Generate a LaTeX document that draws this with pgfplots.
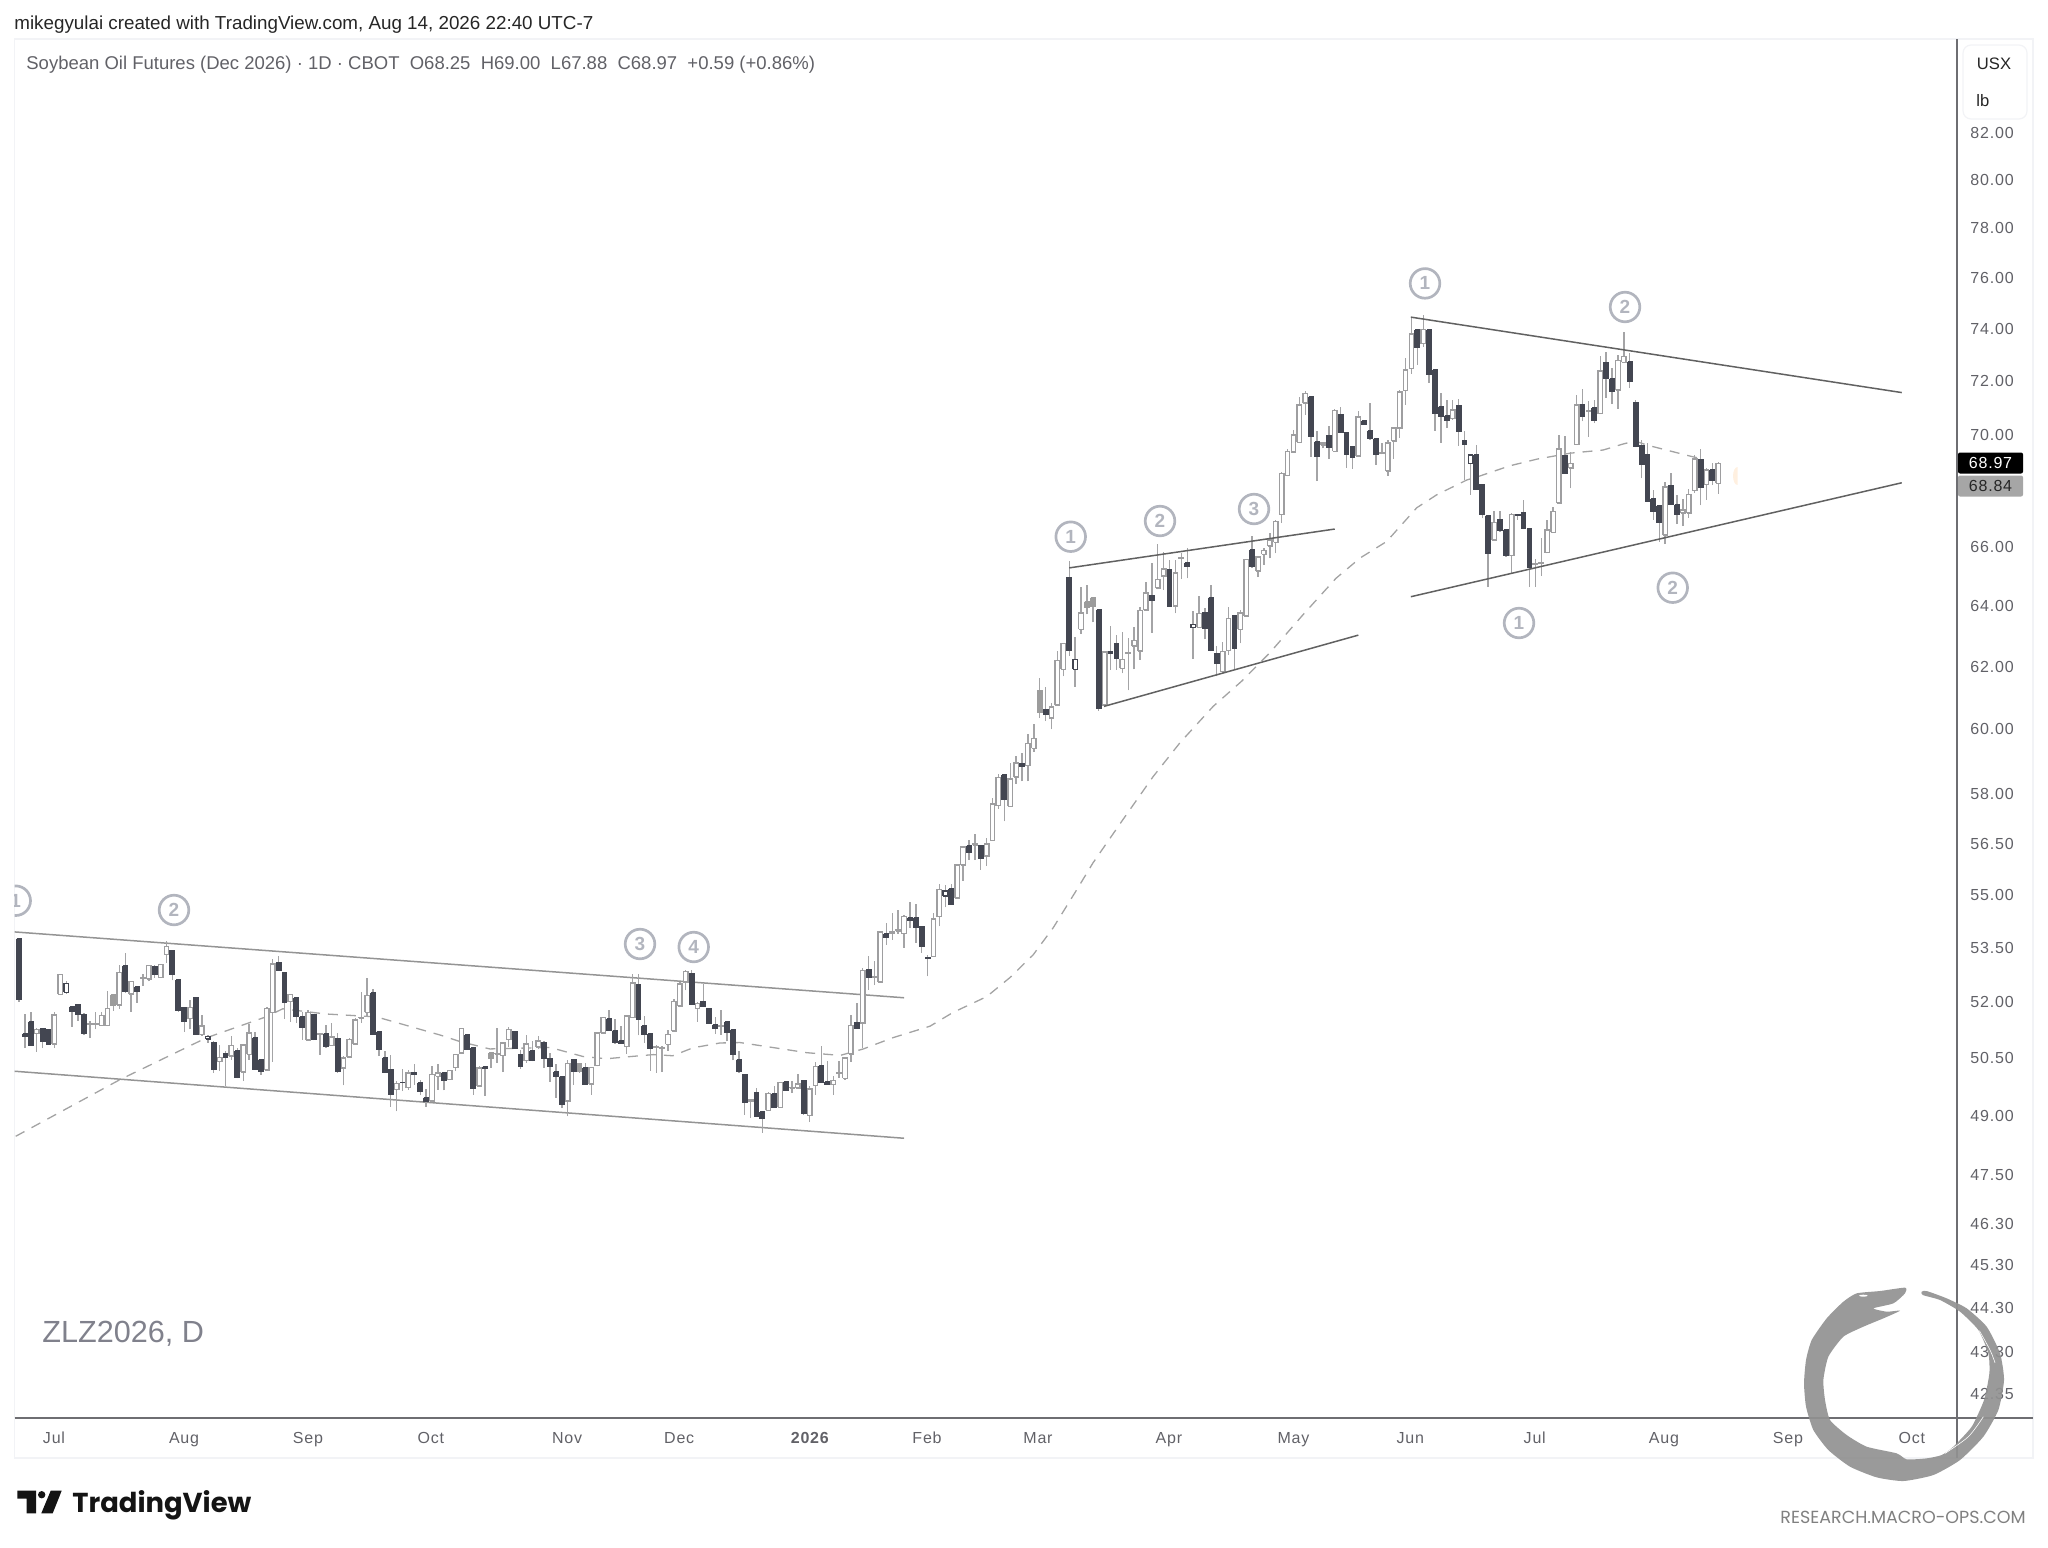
\documentclass[border=0pt]{standalone}
\usepackage{fontspec}
\usepackage{pgfplots}
\pgfplotsset{compat=1.18}
\setmainfont{Liberation Sans}
\newfontfamily\tk[LetterSpace=5]{Liberation Sans}
\newfontfamily\pop{Poppins}
\definecolor{dk}{HTML}{434651}
\definecolor{wk}{HTML}{A4A4A6}
\definecolor{gb}{HTML}{9E9EA0}
\definecolor{cg}{HTML}{9C9C9C}
\definecolor{tx}{HTML}{616167}
\definecolor{circ}{HTML}{B2B5BE}
\definecolor{frm}{HTML}{F2F3F6}
\definecolor{axl}{HTML}{6E6E72}
\pgfplotsset{
 wick/.style={draw=wk,line width=0.7pt,forget plot},
 sdk/.style={draw=dk,fill=dk,line width=0.7pt,forget plot},
 sup/.style={draw=gb,fill=white,line width=0.7pt,forget plot},
 sgr/.style={draw=cg,fill=cg,line width=0.7pt,forget plot},
 sbd/.style={draw=dk,fill=white,line width=0.7pt,forget plot},
}
\newcommand\body[4]{\pgfmathsetmacro\xl{#2-.38}\pgfmathsetmacro\xr{#2+.38}%
 \addplot[#1] coordinates {(\xl,#3)(\xr,#3)(\xr,#4)(\xl,#4)(\xl,#3)};}
\def\D#1 #2 #3 #4 #5;{\addplot[wick] coordinates {(#1,#4)(#1,#3)};\body{sdk}{#1}{#2}{#5}}
\def\U#1 #2 #3 #4 #5;{\addplot[wick] coordinates {(#1,#4)(#1,#3)};\body{sup}{#1}{#2}{#5}}
\def\G#1 #2 #3 #4 #5;{\addplot[wick] coordinates {(#1,#4)(#1,#3)};\body{sgr}{#1}{#2}{#5}}
\def\B#1 #2 #3 #4 #5;{\addplot[wick] coordinates {(#1,#4)(#1,#3)};\body{sbd}{#1}{#2}{#5}}
\begin{document}
\begin{tikzpicture}[x=0.5pt,y=-0.5pt]
\path[use as bounding box] (0,0) rectangle (2048,1547);
\draw[frm,line width=0.6pt] (14.7,39) rectangle (2033,1458);
\begin{axis}[
 at={(7.35pt,-709pt)},anchor=south west,scale only axis,
 width=971.15pt,height=689.5pt,
 xmin=-0.73,xmax=328.47,ymode=log,ymin=41.82,ymax=86.14,
 axis line style={draw=none},tick style={draw=none},minor tick num=0,
 xtick={5.93,27.97,48.98,69.8,92.9,111.9,134.1,153.9,172.7,194.9,216,235.8,256.9,278.8,299.8,320.8},
 xticklabels={Jul,Aug,Sep,Oct,Nov,Dec,{\textbf{2026}},Feb,Mar,Apr,May,Jun,Jul,Aug,Sep,Oct},
 xticklabel style={font=\tk\fontsize{8}{10}\selectfont,text=tx,anchor=base,inner sep=0pt,yshift=-13pt},
 ytick={82,80,78,76,74,72,70,66,64,62,60,58,56.5,55,53.5,52,50.5,49,47.5,46.3,45.3,44.3,43.3,42.35},
 yticklabels={82.00,80.00,78.00,76.00,74.00,72.00,70.00,66.00,64.00,62.00,60.00,58.00,56.50,55.00,53.50,52.00,50.50,49.00,47.50,46.30,45.30,44.30,43.30,42.35},
 yticklabel pos=right,
 yticklabel style={font=\tk\fontsize{8}{10}\selectfont,text=tx,anchor=west,inner sep=0pt,xshift=6.5pt},
]
% trend lines
\addplot[draw=black!42,line width=0.75pt,forget plot] coordinates {(-0.73,53.95)(150,52.12)};
\addplot[draw=black!42,line width=0.75pt,forget plot] coordinates {(-0.73,50.15)(150,48.42)};
% 50-day average
\addplot[draw=black!36,line width=0.65pt,dash pattern=on 5pt off 4pt,forget plot] coordinates {
(-0.56,48.47)(17.1,49.93)(31.8,51.04)(42.0,51.61)(44.7,51.82)(51.9,51.68)(60.6,51.60)(71.4,51.11)(74.7,50.94)(79.8,50.74)(90.0,50.78)(95.6,50.54)(99.6,50.48)(103.0,50.53)(107.5,50.59)(110.8,50.56)(114.2,50.77)(118.8,50.90)(122.2,50.91)(130.2,50.72)(133.5,50.64)(139.2,50.57)(143.1,50.74)(148.1,51.04)(154.4,51.35)(158.3,51.72)(164.0,52.15)(168.0,52.68)(171.9,53.31)(175.3,54.07)(179.3,55.16)(182.0,55.93)(187.1,57.22)(192.2,58.52)(196.8,59.58)(202.4,60.72)(207.2,61.52)(212.0,62.45)(217.6,63.70)(223.2,64.93)(227.3,65.63)(231.8,66.20)(236.9,67.38)(240.3,67.84)(245.4,68.37)(247.6,68.51)(252.7,68.88)(257.3,69.12)(262.9,69.34)(268.5,69.45)(271.9,69.67)(273.9,69.78)(275.9,69.63)(283.7,69.20)(284.6,69.16)};
% candles: index open high low close
\D 0 53.76 53.76 52.01 52.08;
\D 1 51.14 51.68 50.76 51.09;
\D 2 51.46 51.74 50.84 50.84;
\U 3 51.15 51.30 50.66 51.26;
\D 4 51.29 51.29 50.76 50.94;
\D 5 51.25 51.25 50.85 50.86;
\U 6 50.87 51.72 50.76 51.65;
\U 7 52.21 52.76 52.19 52.76;
\B 8 52.27 52.57 52.22 52.51;
\D 9 51.88 51.88 51.33 51.74;
\D 10 51.94 51.94 51.50 51.67;
\D 11 51.67 51.70 51.11 51.16;
\U 12 51.39 51.50 51.03 51.42;
\U 13 51.39 51.72 51.26 51.41;
\U 14 51.37 51.72 51.35 51.64;
\U 15 51.37 52.31 51.35 51.82;
\G 16 52.20 52.20 51.77 51.92;
\U 17 51.92 53.03 51.82 52.82;
\D 18 53.00 53.36 52.25 52.29;
\U 19 52.22 52.57 51.74 52.57;
\D 20 52.42 52.42 51.99 52.29;
\U 21 52.65 52.76 52.45 52.67;
\U 22 52.63 53.01 52.57 53.01;
\D 23 52.98 53.01 52.67 52.75;
\U 24 52.67 53.03 52.67 53.03;
\U 25 53.31 53.69 53.08 53.54;
\D 26 53.43 53.45 52.60 52.76;
\D 27 52.62 52.62 51.74 51.77;
\D 28 51.86 51.86 51.19 51.47;
\U 29 51.55 52.06 51.26 51.85;
\D 30 52.13 52.13 51.12 51.13;
\U 31 51.12 51.64 51.08 51.35;
\B 32 51.01 51.12 50.90 51.08;
\D 33 50.92 50.94 50.11 50.20;
\U 34 50.41 50.85 50.15 50.52;
\D 35 50.62 50.68 49.76 50.52;
\U 36 50.55 51.08 50.46 50.83;
\D 37 50.70 50.76 49.96 50.00;
\U 38 50.13 50.87 49.89 50.85;
\U 39 50.60 51.40 50.46 51.17;
\D 40 51.04 51.19 50.18 50.20;
\D 41 50.46 50.46 50.06 50.14;
\U 42 50.18 51.88 50.18 51.83;
\U 43 51.72 53.20 50.40 53.05;
\D 44 53.10 53.26 52.85 52.87;
\D 45 52.80 52.80 51.54 52.00;
\U 46 52.01 52.20 51.47 52.20;
\D 47 52.11 52.15 51.43 51.61;
\D 48 51.60 51.74 50.99 51.32;
\U 49 50.98 51.79 50.98 51.72;
\D 50 51.67 51.67 50.97 50.99;
\U 51 51.13 51.15 50.59 51.15;
\D 52 51.15 51.39 50.76 50.81;
\U 53 50.83 51.43 50.83 51.06;
\D 54 51.01 51.17 50.11 50.15;
\U 55 50.24 50.55 49.78 50.50;
\U 56 50.53 51.03 50.53 50.99;
\U 57 50.87 51.56 50.85 51.52;
\U 58 51.57 52.27 51.43 51.59;
\U 59 51.72 52.67 51.61 52.18;
\D 60 52.25 52.36 51.11 51.12;
\D 61 51.19 51.19 50.55 50.72;
\D 62 50.50 50.70 50.11 50.13;
\D 63 50.20 50.59 49.22 49.56;
\U 64 49.67 49.89 49.11 49.83;
\D 65 49.86 50.20 49.63 49.85;
\U 66 49.72 50.18 49.67 50.11;
\D 67 50.12 50.33 49.80 50.06;
\D 68 49.85 49.92 49.52 49.62;
\D 69 49.46 49.69 49.22 49.36;
\U 70 49.37 50.30 49.37 50.07;
\U 71 50.02 50.35 49.67 50.11;
\D 72 50.11 50.11 49.65 49.91;
\U 73 49.93 50.17 49.93 50.17;
\U 74 50.25 50.60 50.15 50.60;
\U 75 50.63 51.28 50.63 51.28;
\D 76 51.12 51.12 50.72 50.72;
\D 77 50.76 50.76 49.54 49.70;
\U 78 49.76 50.30 49.76 50.24;
\D 79 50.27 50.27 49.50 50.22;
\G 80 50.63 50.63 50.24 50.48;
\U 81 50.61 51.30 50.37 50.62;
\U 82 50.56 50.90 50.13 50.90;
\U 83 50.99 51.33 50.78 51.26;
\D 84 51.21 51.21 50.75 50.75;
\D 85 50.59 50.72 50.22 50.28;
\U 86 50.43 51.12 50.37 50.87;
\D 87 50.70 50.94 50.41 50.43;
\U 88 50.79 51.08 50.74 50.95;
\D 89 50.92 50.94 50.24 50.48;
\D 90 50.49 50.63 49.87 50.28;
\D 91 50.13 50.33 49.46 50.01;
\D 92 50.01 50.01 49.19 49.28;
\U 93 49.38 50.46 48.98 50.35;
\D 94 50.45 50.45 49.79 50.14;
\G 95 50.34 50.34 50.11 50.14;
\D 96 50.24 50.37 49.80 49.80;
\U 97 49.82 50.25 49.54 50.25;
\U 98 50.30 51.19 50.28 51.17;
\U 99 51.17 51.59 51.15 51.59;
\D 100 51.54 51.79 51.24 51.24;
\D 101 51.23 51.54 50.88 50.92;
\D 102 50.95 51.35 50.88 50.88;
\U 103 50.81 51.62 50.61 51.62;
\U 104 51.59 52.76 51.59 52.52;
\D 105 52.47 52.76 51.10 51.54;
\D 106 51.35 51.62 50.90 51.12;
\D 107 51.14 51.14 50.17 50.76;
\U 108 50.79 50.85 50.11 50.80;
\U 109 50.76 50.81 50.13 50.77;
\U 110 50.86 51.24 50.68 51.13;
\U 111 51.22 52.08 51.21 52.01;
\U 112 51.90 52.54 51.86 52.50;
\U 113 52.55 52.87 52.32 52.84;
\D 114 52.78 52.87 51.92 51.94;
\U 115 51.83 52.01 51.47 51.97;
\D 116 52.02 52.50 51.90 51.90;
\D 117 51.83 51.83 51.41 51.43;
\D 118 51.38 51.61 51.14 51.28;
\U 119 51.34 51.79 51.12 51.37;
\D 120 51.46 51.46 50.94 51.19;
\D 121 51.25 51.28 50.44 50.60;
\D 122 50.45 50.70 50.11 50.14;
\D 123 50.06 50.06 49.02 49.35;
\U 124 49.38 49.41 48.94 49.41;
\D 125 49.60 49.72 48.96 48.98;
\D 126 49.10 49.10 48.56 48.93;
\U 127 49.13 49.60 49.12 49.57;
\D 128 49.56 49.76 49.22 49.22;
\U 129 49.21 49.87 49.21 49.85;
\D 130 49.87 49.87 49.65 49.65;
\U 131 49.71 49.89 49.58 49.73;
\U 132 49.71 50.09 49.71 49.82;
\D 133 49.91 49.91 49.02 49.05;
\U 134 49.00 49.76 48.83 49.69;
\U 135 49.78 50.39 49.54 50.28;
\D 136 50.30 50.81 49.85 49.87;
\D 137 49.87 50.41 49.80 49.80;
\U 138 49.80 50.02 49.54 49.91;
\U 139 50.09 50.41 49.98 50.11;
\U 140 49.96 50.50 49.93 50.50;
\U 141 50.61 51.64 50.40 51.37;
\D 142 51.45 51.97 51.29 51.29;
\U 143 51.43 52.94 50.76 52.87;
\D 144 52.88 53.26 52.34 52.69;
\U 145 52.67 53.14 52.47 52.69;
\U 146 52.55 53.95 52.55 53.95;
\D 147 53.89 54.21 53.59 53.81;
\U 148 53.90 54.48 53.73 53.94;
\U 149 53.98 54.58 53.90 54.00;
\U 150 53.90 54.44 53.51 54.39;
\D 151 54.35 54.79 54.07 54.28;
\D 152 54.35 54.75 53.65 54.07;
\D 153 54.09 54.09 53.37 53.54;
\D 154 53.23 53.31 52.71 53.21;
\U 155 53.26 54.48 53.26 54.32;
\U 156 54.38 55.33 54.11 55.16;
\B 157 54.98 55.29 54.65 55.12;
\D 158 55.18 55.31 54.72 54.74;
\U 159 54.92 55.91 54.92 55.87;
\U 160 55.87 56.45 55.42 56.40;
\D 161 56.43 56.62 56.02 56.26;
\U 162 56.47 56.79 56.02 56.49;
\D 163 56.45 56.45 55.73 56.06;
\U 164 56.14 56.67 55.86 56.49;
\U 165 56.60 57.87 56.60 57.69;
\U 166 57.64 58.62 57.54 58.49;
\D 167 58.58 58.58 57.17 57.83;
\U 168 57.62 58.95 57.62 58.45;
\U 169 58.51 59.17 58.31 58.95;
\D 170 58.93 59.25 58.38 58.85;
\U 171 58.86 59.83 58.38 59.55;
\U 172 59.40 60.16 59.30 59.71;
\G 173 61.23 61.62 60.35 60.52;
\D 174 60.62 61.35 60.25 60.47;
\U 175 60.35 60.81 59.99 60.70;
\U 176 60.76 62.49 60.76 62.20;
\U 177 61.91 62.76 61.68 62.74;
\D 178 64.97 65.53 62.34 62.54;
\B 179 61.91 62.98 61.35 62.24;
\U 180 63.22 64.64 63.06 63.77;
\G 181 64.14 64.72 63.72 63.94;
\G 182 64.27 64.27 63.45 64.00;
\D 183 63.86 63.86 60.57 60.67;
\U 184 60.76 62.47 60.74 62.47;
\D 185 62.49 63.33 61.89 62.43;
\D 186 62.73 63.03 61.89 62.26;
\U 187 61.94 63.14 61.78 62.24;
\U 188 62.42 62.93 61.23 62.44;
\U 189 62.67 63.31 61.91 62.85;
\U 190 62.51 63.97 62.22 63.84;
\U 191 63.86 64.82 63.86 64.43;
\D 192 64.36 65.45 63.11 64.20;
\U 193 64.60 66.13 64.56 64.90;
\U 194 65.01 65.85 64.54 65.25;
\D 195 65.22 65.56 63.97 64.00;
\U 196 64.00 65.56 63.75 65.11;
\U 197 65.62 65.79 64.90 65.64;
\D 198 65.47 65.97 64.93 65.34;
\B 199 63.28 63.83 62.24 63.39;
\U 200 63.29 64.34 63.29 63.75;
\D 201 63.79 63.92 62.89 63.24;
\D 202 64.27 64.70 62.49 62.52;
\D 203 62.43 62.68 61.68 62.09;
\U 204 61.84 62.81 61.78 62.49;
\U 205 62.52 63.97 62.38 63.58;
\D 206 63.69 63.69 61.92 62.58;
\U 207 63.22 63.86 62.76 63.77;
\U 208 63.66 65.58 63.64 65.58;
\D 209 65.90 66.39 65.30 65.33;
\U 210 65.18 65.70 64.97 65.66;
\U 211 65.76 65.97 65.39 65.88;
\U 212 66.04 66.48 65.62 66.25;
\U 213 66.17 66.95 65.79 66.89;
\U 214 67.14 68.67 66.84 68.61;
\U 215 68.52 69.49 68.49 69.39;
\U 216 69.37 70.19 69.35 70.00;
\U 217 69.73 71.42 69.70 71.11;
\U 218 71.18 71.65 70.74 71.53;
\D 219 71.42 71.42 69.21 69.94;
\D 220 69.76 70.15 68.33 69.21;
\U 221 69.63 69.72 69.51 69.70;
\D 222 69.98 70.31 69.12 69.53;
\U 223 69.40 70.96 69.38 70.90;
\D 224 70.75 71.05 70.09 70.10;
\D 225 70.09 70.09 68.81 69.29;
\D 226 69.57 69.57 68.77 69.17;
\U 227 69.24 70.87 69.24 70.66;
\D 228 70.51 70.51 70.38 70.40;
\D 229 70.16 71.18 69.82 69.87;
\D 230 69.85 69.85 68.91 69.29;
\U 231 69.32 69.70 69.29 69.34;
\U 232 68.69 69.82 68.52 69.70;
\U 233 69.78 70.25 69.12 70.25;
\U 234 70.25 71.68 69.88 71.59;
\U 235 71.64 72.87 71.11 72.42;
\U 236 72.49 74.46 72.28 73.80;
\D 237 73.98 73.98 72.62 73.28;
\U 238 73.43 74.54 73.32 73.97;
\D 239 73.97 73.97 71.95 72.27;
\D 240 72.42 72.42 70.15 70.80;
\D 241 71.03 71.55 69.72 70.68;
\D 242 70.70 71.30 70.25 70.56;
\U 243 70.60 71.30 70.56 70.92;
\D 244 71.10 71.33 69.60 70.13;
\D 245 69.79 70.13 68.37 69.66;
\B 246 68.97 69.29 67.84 69.27;
\D 247 69.28 69.63 68.02 68.02;
\D 248 68.21 68.21 67.01 67.16;
\D 249 67.10 67.13 64.63 65.78;
\U 250 66.25 67.28 66.25 66.87;
\D 251 66.97 67.28 66.54 66.58;
\D 252 66.60 66.60 65.67 65.71;
\U 253 65.71 67.19 65.11 67.13;
\D 254 67.14 67.16 66.95 67.12;
\D 255 67.19 67.64 66.62 66.65;
\D 256 66.65 66.65 64.64 65.31;
\U 257 65.41 65.58 64.64 65.43;
\U 258 65.44 66.31 65.01 65.46;
\U 259 65.82 66.95 65.79 66.60;
\U 260 66.52 67.42 66.49 67.25;
\U 261 67.54 69.98 67.54 69.49;
\D 262 69.26 69.97 68.60 68.60;
\U 263 68.80 69.39 68.07 68.96;
\U 264 69.65 71.49 69.65 71.11;
\D 265 71.12 71.70 70.50 70.68;
\U 266 70.88 71.24 69.94 70.90;
\D 267 71.00 71.30 70.44 70.56;
\U 268 70.78 72.94 70.76 72.39;
\D 269 72.71 73.12 71.36 72.11;
\D 270 72.09 72.49 71.14 71.62;
\U 271 71.68 73.00 70.96 72.78;
\U 272 72.71 73.89 72.69 72.94;
\D 273 72.73 73.06 71.74 71.99;
\D 274 71.21 71.30 69.55 69.57;
\D 275 69.61 69.82 68.43 68.92;
\D 276 69.29 69.70 67.60 67.60;
\D 277 67.68 68.02 66.95 67.27;
\D 278 67.44 67.44 66.19 66.87;
\U 279 66.42 68.29 66.11 68.11;
\D 280 68.18 68.63 67.48 67.49;
\D 281 67.47 67.84 66.81 67.16;
\U 282 67.19 67.70 66.74 67.31;
\U 283 67.19 68.04 67.04 67.85;
\U 284 67.98 69.27 67.92 69.12;
\D 285 69.09 69.48 67.46 68.10;
\U 286 68.21 68.79 67.66 68.72;
\D 287 68.73 68.99 68.19 68.36;
\U 288 68.25 69.00 67.88 68.97;
% remaining trend lines
\addplot[draw=black!62,line width=0.75pt,forget plot] coordinates {(178,65.29)(223,66.63)};
\addplot[draw=black!62,line width=0.75pt,forget plot] coordinates {(183.9,60.72)(227,63.03)};
\addplot[draw=black!62,line width=0.75pt,forget plot] coordinates {(235.9,74.46)(319.1,71.57)};
\addplot[draw=black!62,line width=0.75pt,forget plot] coordinates {(235.9,64.31)(319.1,68.27)};
\end{axis}
% scale lines
\draw[axl,line width=1pt] (14.7,1418) -- (2033,1418);
\draw[axl,line width=0.6pt] (1957,39) -- (1957,1458);
% unit box
\draw[frm,line width=0.6pt,rounded corners=4pt,fill=white] (1963,45) rectangle (2027,119);
\node[anchor=center,text=black!85,font=\fontsize{8.3}{10}\selectfont] at (1994,64) {USX};
\node[anchor=west,inner sep=0pt,text=black!85,font=\fontsize{8.3}{10}\selectfont] at (1976,101) {lb};
% price labels
\node[fill=black,text=white,anchor=center,minimum width=32.5pt,minimum height=10.5pt,inner sep=0pt,rounded corners=1pt,font=\tk\fontsize{8}{10}\selectfont] at (1990.5,463) {68.97};
\node[fill=black!35,text=black!85,anchor=center,minimum width=32.5pt,minimum height=10.5pt,inner sep=0pt,rounded corners=1pt,font=\tk\fontsize{8}{10}\selectfont] at (1990.5,486) {68.84};
% header
\node[anchor=west,inner sep=0pt,text=black!85,font=\fontsize{9.4}{11}\selectfont] at (14,24.5) {mikegyulai created with TradingView.com, Aug 14, 2026 22:40 UTC-7};
\node[anchor=west,inner sep=0pt,text=tx,font=\fontsize{9.25}{11}\selectfont] at (26,65) {Soybean Oil Futures (Dec 2026) · 1D · CBOT\ \ O68.25\ \ H69.00\ \ L67.88\ \ C68.97\ \ +0.59 (+0.86\%)};
\node[anchor=west,inner sep=0pt,text={rgb,255:red,128;green,129;blue,140},font=\fontsize{15.3}{18}\selectfont] at (42,1334) {ZLZ2026, D};
% wave labels
\tikzset{wv/.style={circle,draw=circ,line width=1.35pt,minimum size=14.8pt,inner sep=0pt,text=circ,font=\bfseries\fontsize{9.5}{10}\selectfont}}
\begin{scope}
\clip (14.7,39) rectangle (1957,1418);
\node[wv] at (15.7,900.7) {1};
\end{scope}
\node[wv] at (174,910) {2};
\node[wv] at (640,944) {3};
\node[wv] at (693.7,947) {4};
\node[wv] at (1070.7,536.7) {1};
\node[wv] at (1160,521) {2};
\node[wv] at (1254,509) {3};
\node[wv] at (1425,283.4) {1};
\node[wv] at (1625,307) {2};
\node[wv] at (1519,623) {1};
\node[wv] at (1672.7,587.7) {2};
% pale marker
\begin{scope}
\clip (1725,460) rectangle (1737.5,492);
\fill[orange!12] (1737.5,476) ellipse[x radius=4.5,y radius=9];
\end{scope}
% TradingView mark
\fill[black!92] (17.3,1490.7) -- (36,1490.7) -- (36,1513.3) -- (26.7,1513.3) -- (26.7,1498.7) -- (17.3,1498.7) -- cycle;
\fill[black!92] (41.7,1494.7) circle[radius=3.7];
\fill[black!92] (50.7,1490.7) -- (61.7,1490.7) -- (52.7,1513.3) -- (41.3,1513.3) -- cycle;
\node[anchor=base west,inner sep=0pt,text=black!92,font=\pop\bfseries\fontsize{13.7}{16}\selectfont] at (72,1512.7) {TradingView};
\node[anchor=east,inner sep=0pt,text=black!50,font=\pop\fontsize{8.75}{10}\selectfont] at (2026,1517) {RESEARCH.MACRO-OPS.COM};
% ouroboros
\begin{scope}[shift={(1700,1240)},x=0.16667pt,y=-0.16667pt]
\fill[black!43,opacity=0.92] plot[smooth cycle,tension=.35] coordinates {
(615,143)(540,153)(470,160)(430,185)(380,235)(335,300)(318,360)(312,430)(318,500)(340,570)(385,630)(450,680)(530,712)(610,723)(700,705)(780,660)(850,590)(895,510)(912,420)(900,340)(860,260)(800,205)(740,175)(680,153)(665,155)(668,165)(720,180)(780,215)(835,270)(865,340)(868,400)(852,480)(815,560)(760,620)(725,645)(680,655)(620,658)(590,640)(500,620)(440,585)(390,540)(375,480)(370,420)(385,350)(430,290)(490,260)(550,235)(600,212)(560,215)(520,205)(580,190)(615,160)};
\draw[white,line width=0.3pt] plot[smooth] coordinates {(838,272)(870,330)(885,368)};
\draw[white,line width=0.3pt] plot[smooth] coordinates {(735,640)(805,590)(850,530)};
\fill[white] (490,167) ellipse[x radius=13,y radius=3];
\end{scope}
\end{tikzpicture}
\end{document}
